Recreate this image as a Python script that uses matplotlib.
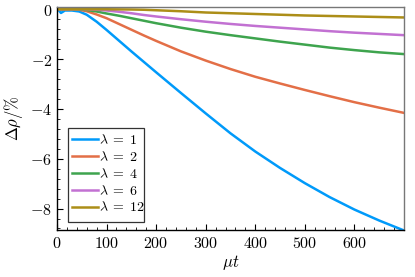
#!/usr/bin/env python3
"""Relative density change for several lambda values."""

import matplotlib

matplotlib.use("Agg")
import matplotlib.pyplot as plt
from matplotlib.patches import Rectangle
from matplotlib.ticker import MultipleLocator, FuncFormatter

plt.rcParams["mathtext.fontset"] = "cm"
plt.rcParams["font.family"] = ["DejaVu Serif"]

# data
t = [0, 4, 8, 16, 30, 45, 60, 80, 100, 125, 150, 175, 200, 250, 300,
     350, 400, 450, 500, 550, 600, 650, 700]
lam_1 = [0, -0.05, -0.15, -0.05, -0.05, -0.09, -0.22, -0.5, -0.83, -1.26, -1.69, -2.11,
         -2.53, -3.36, -4.18, -4.98, -5.71, -6.37, -6.98, -7.54, -8.04, -8.48, -8.88]
lam_2 = [0, 0, -0.02, -0.01, 0, -0.02, -0.08, -0.21, -0.36, -0.59, -0.82, -1.05,
         -1.27, -1.69, -2.06, -2.4, -2.71, -2.98, -3.24, -3.49, -3.73, -3.95, -4.16]
lam_4 = [0, 0, 0, 0, 0, -0.01, -0.03, -0.09, -0.17, -0.26, -0.36, -0.46,
         -0.56, -0.74, -0.9, -1.04, -1.17, -1.3, -1.42, -1.54, -1.64, -1.73, -1.8]
lam_6 = [0, 0, 0, 0, 0, 0, 0, -0.02, -0.05, -0.1, -0.16, -0.23,
         -0.29, -0.4, -0.5, -0.59, -0.67, -0.74, -0.81, -0.88, -0.94, -0.99, -1.04]
lam_12 = [0, 0, 0, 0, 0, 0, 0, 0, 0, -0.005, -0.01, -0.02,
          -0.04, -0.08, -0.13, -0.16, -0.19, -0.22, -0.25, -0.27, -0.29, -0.31, -0.33]

series = [(lam_1, "1"), (lam_2, "2"), (lam_4, "4"), (lam_6, "6"), (lam_12, "12")]
colors = ["#009AFA", "#E36F47", "#3EA44E", "#C271D2", "#AC8E18"]
x_ticks = [0, 100, 200, 300, 400, 500, 600]

fig = plt.figure(figsize=(4.15, 2.77), dpi=100)
ax = fig.add_axes([0.1373, 0.1697, 0.8362, 0.805])

for (vals, name), color in zip(series, colors):
    ax.plot(t, vals, color=color, linewidth=1.8, label=rf"$\lambda \;=\; {name}$")

ax.set_xlim(0, 700)
ax.set_ylim(-8.86, 0.09)
ax.set_xticks(x_ticks)
ax.xaxis.set_minor_locator(MultipleLocator(20))
ax.yaxis.set_major_locator(MultipleLocator(2))
ax.yaxis.set_minor_locator(MultipleLocator(0.4))
ax.xaxis.set_major_formatter(FuncFormatter(lambda v, p: rf"${v:.0f}$"))
ax.yaxis.set_major_formatter(FuncFormatter(lambda v, p: rf"${v:.0f}$"))
ax.tick_params(which="both", direction="in", labelsize=11.5, top=False, right=False)
ax.tick_params(which="major", length=4, width=0.8)
ax.tick_params(which="minor", length=2, width=0.6)

for side in ("left", "bottom"):
    ax.spines[side].set_color("black")
    ax.spines[side].set_linewidth(1.0)
for side in ("top", "right"):
    ax.spines[side].set_color("#777777")
    ax.spines[side].set_linewidth(1.0)

ax.set_xlabel(r"$\mu t$", fontsize=12, labelpad=1)
ax.set_ylabel(r"$\Delta\rho / \%$", fontsize=12, labelpad=4)

# legend box drawn separately: the reference has more room above the first row
ax.add_patch(Rectangle((0.0326, 0.0372), 0.219, 0.419, transform=ax.transAxes,
                       facecolor="white", edgecolor="#333333", linewidth=0.9, zorder=4))
leg = ax.legend(loc="lower left", bbox_to_anchor=(0.0424, 0.07), borderaxespad=0,
                fontsize=10, frameon=False, handlelength=1.87, handletextpad=0.12,
                labelspacing=0.2, borderpad=0)
leg.set_zorder(5)

fig.savefig("out.png", dpi=100)
